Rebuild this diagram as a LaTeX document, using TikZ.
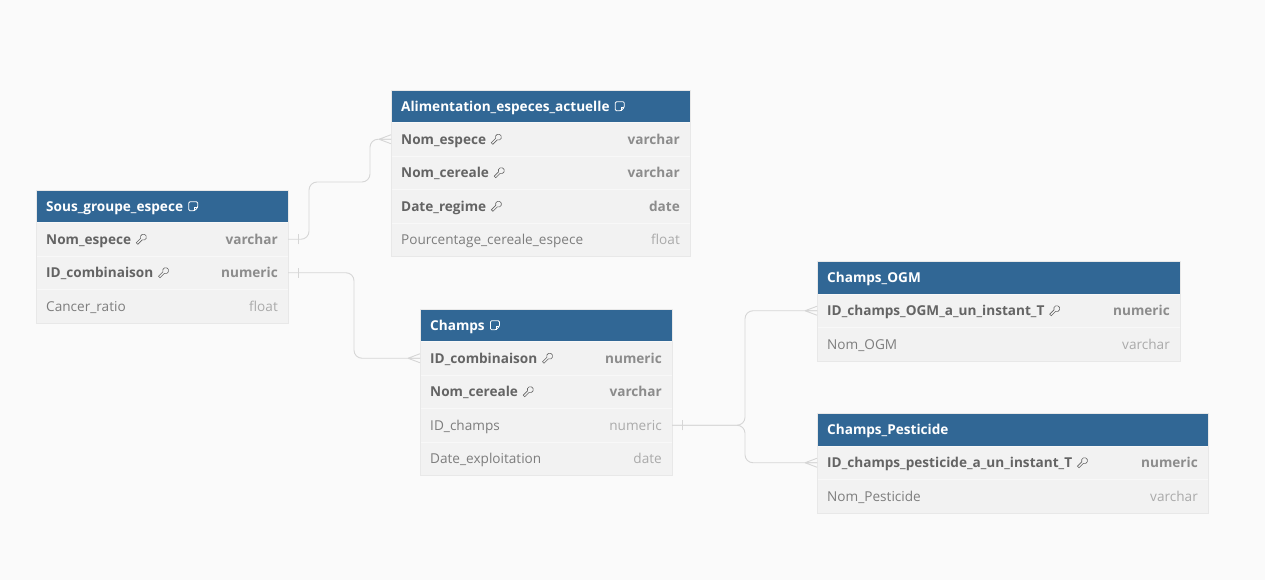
\documentclass[tikz,border=0pt]{standalone}
\usepackage{fontspec}
\setmainfont{Open Sans}
\usetikzlibrary{positioning}

\definecolor{bgpage}{RGB}{250,250,250}
\definecolor{headblue}{RGB}{49,103,149}
\definecolor{rowgray}{RGB}{242,242,242}
\definecolor{rowline}{RGB}{248,248,248}
\definecolor{tblborder}{RGB}{232,232,232}
\definecolor{keytxt}{RGB}{100,100,100}
\definecolor{keytype}{RGB}{140,140,140}
\definecolor{fldtxt}{RGB}{125,125,125}
\definecolor{fldtype}{RGB}{170,170,170}
\definecolor{linkgray}{RGB}{214,214,214}

\tikzset{
    tblhead/.style={fill=headblue, anchor=north west, minimum height=32.5pt, inner sep=0pt, outer sep=0pt},
    tblrow/.style={fill=rowgray, draw=rowline, line width=0.6pt, anchor=north west, minimum height=33.5pt, inner sep=0pt, outer sep=0pt},
    txt/.style={inner sep=0pt, text height=9.7pt, text depth=0pt, font=\fontsize{13.6}{16}\selectfont},
    headtxt/.style={txt, text=white, font=\fontsize{13.6}{16}\selectfont\bfseries},
    keyname/.style={txt, text=keytxt, font=\fontsize{13.6}{16}\selectfont\bfseries},
    keytype/.style={txt, text=keytype, font=\fontsize{13.6}{16}\selectfont\bfseries},
    fldname/.style={txt, text=fldtxt},
    fldtype/.style={txt, text=fldtype},
    link/.style={draw=linkgray, line width=0.9pt, rounded corners=8pt},
    keyicon/.pic={
        \draw[line width=0.6pt, rotate=45] (0.21pt,1.1pt) arc[start angle=158.5, end angle=-158.5, radius=3pt]
            -- (-6pt,-1.1pt) -- (-6pt,1.1pt) -- cycle;
    },
    noteicon/.pic={
        \draw[line width=0.8pt, rounded corners=1.2pt] (-4.5pt,4.5pt) -- (4.5pt,4.5pt) -- (4.5pt,-1.2pt) -- (1.2pt,-4.5pt) -- (-4.5pt,-4.5pt) -- cycle;
        \draw[line width=0.8pt] (4.5pt,-1.2pt) -- (1.2pt,-1.2pt) -- (1.2pt,-4.5pt);
    },
    manyend/.pic={
        \draw[linkgray, line width=0.9pt] (-12pt,0pt) -- (0pt,4.5pt) (-12pt,0pt) -- (0pt,0pt) (-12pt,0pt) -- (0pt,-4.5pt);
    },
    oneend/.pic={
        \draw[linkgray, line width=0.9pt] (10pt,-5pt) -- (10pt,5pt);
    },
}

\begin{document}
\begin{tikzpicture}[x=1pt, y=-1pt]
    % page
    \fill[bgpage] (0,0) rectangle (1265,580);

    % Sous_groupe_espece
    \node[tblhead, minimum width=252pt] (sge) at (36,190) {};
    \node[headtxt, right=10pt of sge.west] (sge-h) {Sous\_groupe\_espece};
    \pic[white] at ([xshift=10pt]sge-h.east) {noteicon};
    \node[tblrow, minimum width=252pt] (sge-nom) at (sge.south west) {};
    \node[keyname, right=10pt of sge-nom.west] (sge-nom-n) {Nom\_espece};
    \pic[keytxt] at ([xshift=10pt]sge-nom-n.east) {keyicon};
    \node[keytype, left=10pt of sge-nom.east] {varchar};
    \node[tblrow, minimum width=252pt] (sge-id) at (sge-nom.south west) {};
    \node[keyname, right=10pt of sge-id.west] (sge-id-n) {ID\_combinaison};
    \pic[keytxt] at ([xshift=10pt]sge-id-n.east) {keyicon};
    \node[keytype, left=10pt of sge-id.east] {numeric};
    \node[tblrow, minimum width=252pt] (sge-cr) at (sge-id.south west) {};
    \node[fldname, right=10pt of sge-cr.west] {Cancer\_ratio};
    \node[fldtype, left=10pt of sge-cr.east] {float};
    \draw[tblborder] (sge.north west) rectangle (sge-cr.south east);

    % Alimentation_especes_actuelle
    \node[tblhead, minimum width=299pt] (ali) at (391,90) {};
    \node[headtxt, right=10pt of ali.west] (ali-h) {Alimentation\_especes\_actuelle};
    \pic[white] at ([xshift=10pt]ali-h.east) {noteicon};
    \node[tblrow, minimum width=299pt] (ali-nom) at (ali.south west) {};
    \node[keyname, right=10pt of ali-nom.west] (ali-nom-n) {Nom\_espece};
    \pic[keytxt] at ([xshift=10pt]ali-nom-n.east) {keyicon};
    \node[keytype, left=10pt of ali-nom.east] {varchar};
    \node[tblrow, minimum width=299pt] (ali-cer) at (ali-nom.south west) {};
    \node[keyname, right=10pt of ali-cer.west] (ali-cer-n) {Nom\_cereale};
    \pic[keytxt] at ([xshift=10pt]ali-cer-n.east) {keyicon};
    \node[keytype, left=10pt of ali-cer.east] {varchar};
    \node[tblrow, minimum width=299pt] (ali-date) at (ali-cer.south west) {};
    \node[keyname, right=10pt of ali-date.west] (ali-date-n) {Date\_regime};
    \pic[keytxt] at ([xshift=10pt]ali-date-n.east) {keyicon};
    \node[keytype, left=10pt of ali-date.east] {date};
    \node[tblrow, minimum width=299pt] (ali-pct) at (ali-date.south west) {};
    \node[fldname, right=10pt of ali-pct.west] {Pourcentage\_cereale\_espece};
    \node[fldtype, left=10pt of ali-pct.east] {float};
    \draw[tblborder] (ali.north west) rectangle (ali-pct.south east);

    % Champs
    \node[tblhead, minimum width=252pt] (cha) at (420,309) {};
    \node[headtxt, right=10pt of cha.west] (cha-h) {Champs};
    \pic[white] at ([xshift=10pt]cha-h.east) {noteicon};
    \node[tblrow, minimum width=252pt] (cha-id) at (cha.south west) {};
    \node[keyname, right=10pt of cha-id.west] (cha-id-n) {ID\_combinaison};
    \pic[keytxt] at ([xshift=10pt]cha-id-n.east) {keyicon};
    \node[keytype, left=10pt of cha-id.east] {numeric};
    \node[tblrow, minimum width=252pt] (cha-cer) at (cha-id.south west) {};
    \node[keyname, right=10pt of cha-cer.west] (cha-cer-n) {Nom\_cereale};
    \pic[keytxt] at ([xshift=10pt]cha-cer-n.east) {keyicon};
    \node[keytype, left=10pt of cha-cer.east] {varchar};
    \node[tblrow, minimum width=252pt] (cha-ch) at (cha-cer.south west) {};
    \node[fldname, right=10pt of cha-ch.west] {ID\_champs};
    \node[fldtype, left=10pt of cha-ch.east] {numeric};
    \node[tblrow, minimum width=252pt] (cha-date) at (cha-ch.south west) {};
    \node[fldname, right=10pt of cha-date.west] {Date\_exploitation};
    \node[fldtype, left=10pt of cha-date.east] {date};
    \draw[tblborder] (cha.north west) rectangle (cha-date.south east);

    % Champs_OGM
    \node[tblhead, minimum width=363pt, minimum height=33pt] (ogm) at (817,261) {};
    \node[headtxt, right=10pt of ogm.west] {Champs\_OGM};
    \node[tblrow, minimum width=363pt] (ogm-id) at (ogm.south west) {};
    \node[keyname, right=10pt of ogm-id.west] (ogm-id-n) {ID\_champs\_OGM\_a\_un\_instant\_T};
    \pic[keytxt] at ([xshift=10pt]ogm-id-n.east) {keyicon};
    \node[keytype, left=10pt of ogm-id.east] {numeric};
    \node[tblrow, minimum width=363pt] (ogm-nom) at (ogm-id.south west) {};
    \node[fldname, right=10pt of ogm-nom.west] {Nom\_OGM};
    \node[fldtype, left=10pt of ogm-nom.east] {varchar};
    \draw[tblborder] (ogm.north west) rectangle (ogm-nom.south east);

    % Champs_Pesticide
    \node[tblhead, minimum width=391pt, minimum height=33pt] (pes) at (817,413) {};
    \node[headtxt, right=10pt of pes.west] {Champs\_Pesticide};
    \node[tblrow, minimum width=391pt] (pes-id) at (pes.south west) {};
    \node[keyname, right=10pt of pes-id.west] (pes-id-n) {ID\_champs\_pesticide\_a\_un\_instant\_T};
    \pic[keytxt] at ([xshift=10pt]pes-id-n.east) {keyicon};
    \node[keytype, left=10pt of pes-id.east] {numeric};
    \node[tblrow, minimum width=391pt] (pes-nom) at (pes-id.south west) {};
    \node[fldname, right=10pt of pes-nom.west] {Nom\_Pesticide};
    \node[fldtype, left=10pt of pes-nom.east] {varchar};
    \draw[tblborder] (pes.north west) rectangle (pes-nom.south east);

    % links
    \coordinate (j1) at (309,182);
    \coordinate (j2) at (370,182);
    \coordinate (j3) at (354,300);
    \coordinate (j4) at (745,380);
    \coordinate (j5) at (745,440);
    \draw[link] (sge-nom.east) -| (j1) -- (j2) |- (ali-nom.west);
    \draw[link] (sge-id.east) -| (j3) |- (cha-id.west);
    \draw[link] (cha-ch.east) -| (j4) |- (ogm-id.west);
    \draw[link] (cha-ch.east) -| (j5) |- (pes-id.west);
    \pic at (sge-nom.east) {oneend};
    \pic at (sge-id.east) {oneend};
    \pic at (cha-ch.east) {oneend};
    \pic at (ali-nom.west) {manyend};
    \pic at (cha-id.west) {manyend};
    \pic at (ogm-id.west) {manyend};
    \pic at (pes-id.west) {manyend};
\end{tikzpicture}
\end{document}
